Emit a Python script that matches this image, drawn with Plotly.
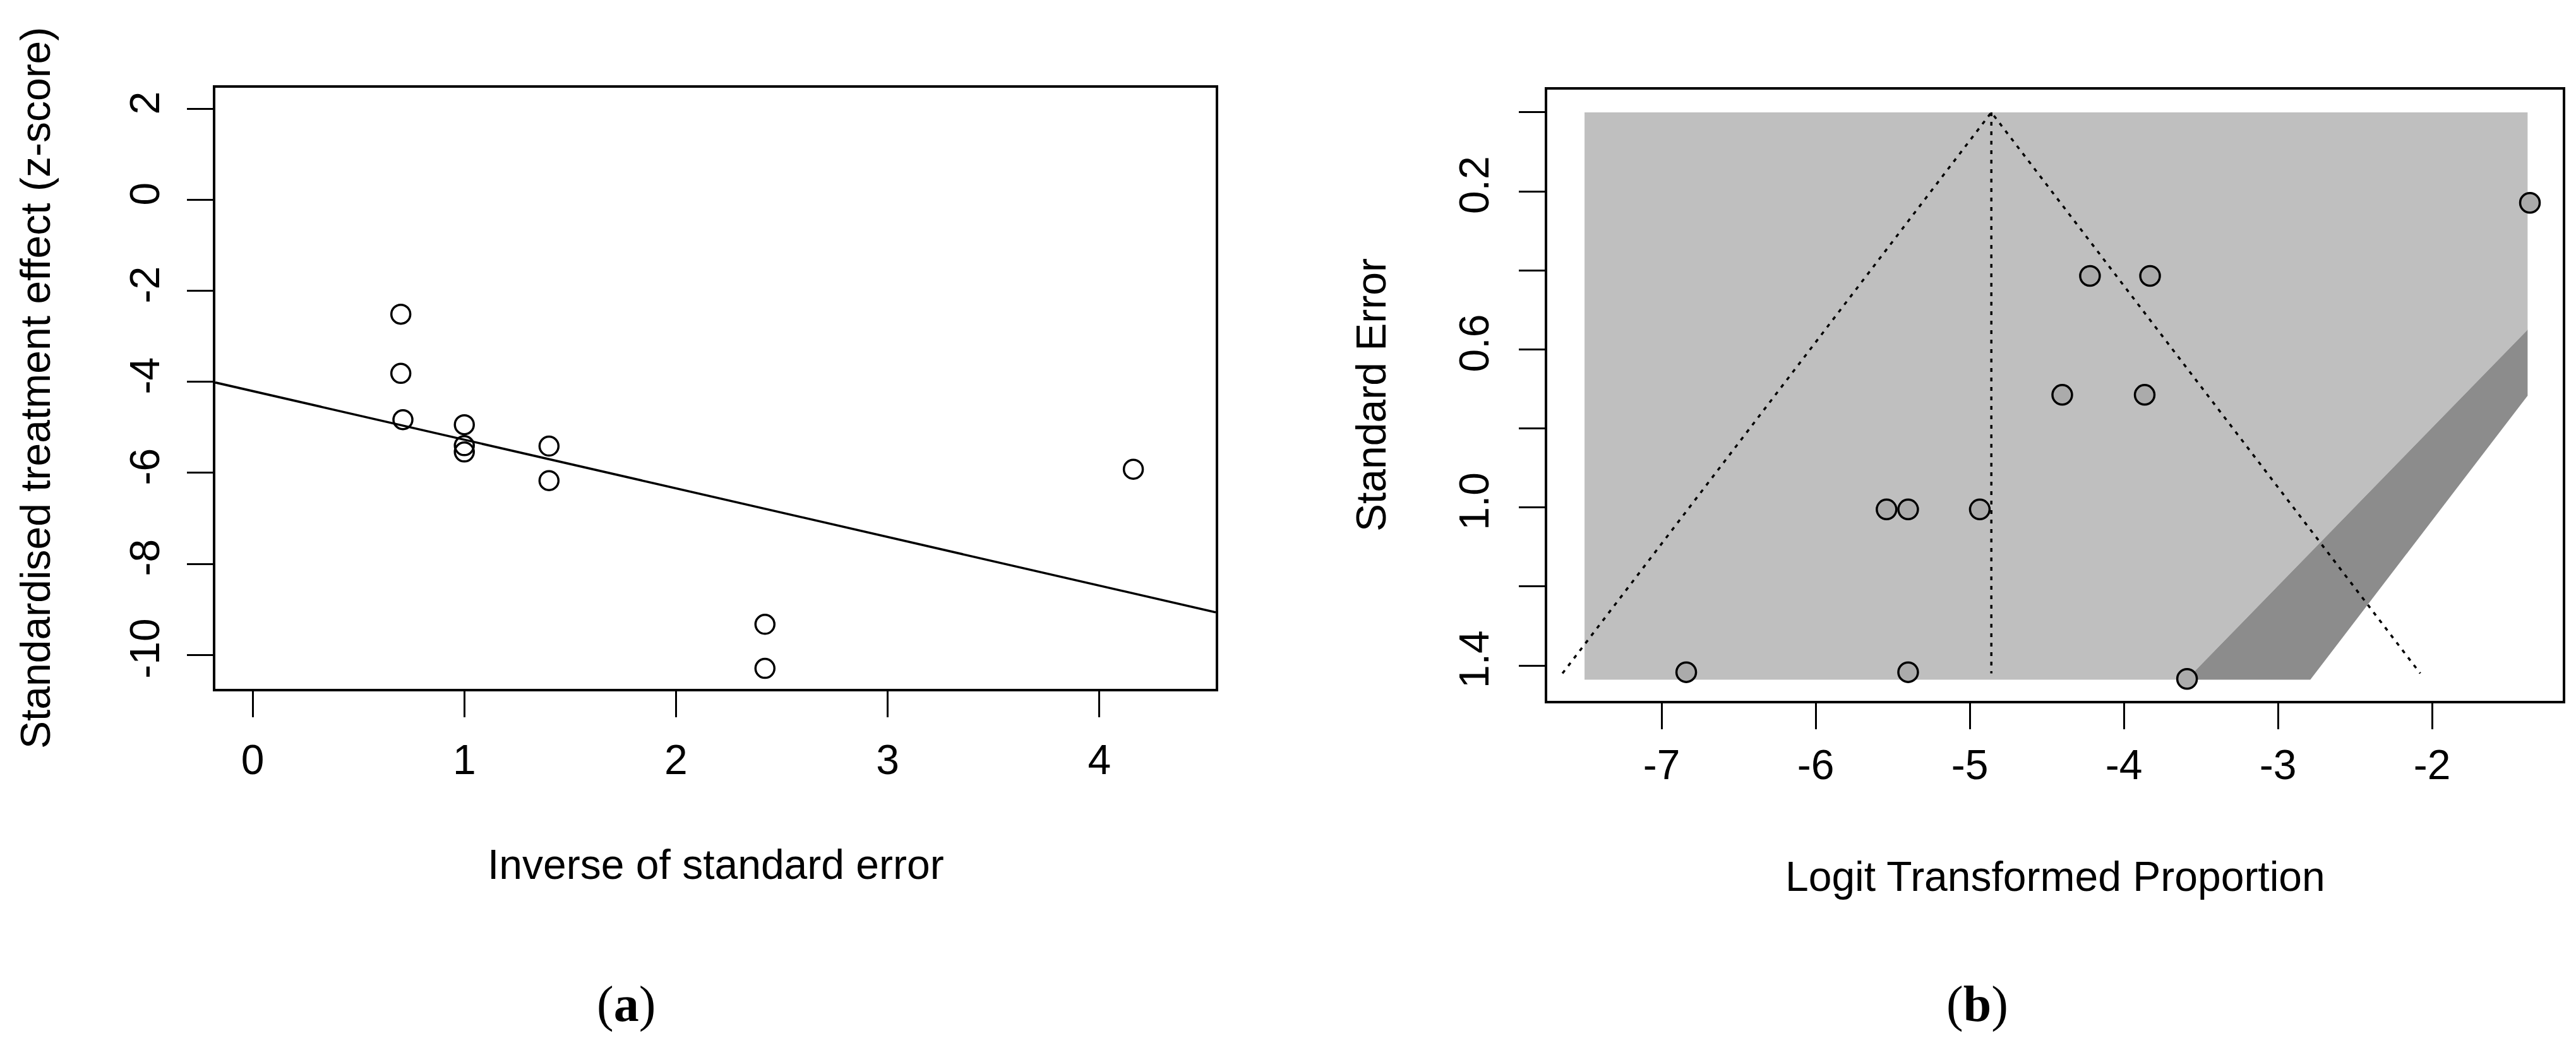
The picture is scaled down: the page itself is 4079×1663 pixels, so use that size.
import plotly.graph_objects as go

# ---------------- Panel (a): radial plot data ----------------
inv_se = [0.70, 0.70, 0.71, 1.00, 1.00, 1.00, 1.40, 1.40, 2.42, 2.42, 4.16]
z_score = [-2.51, -3.81, -4.83, -4.94, -5.40, -5.54, -5.41, -6.17, -9.33, -10.30, -5.92]
reg_intercept = -4.2
reg_slope = -1.07
a_xrange = [-0.176, 4.549]
a_yrange = [-10.75, 2.472]
a_xticks = [0, 1, 2, 3, 4]
a_xticktext = ["0", "1", "2", "3", "4"]
a_yticks = [2, 0, -2, -4, -6, -8, -10]
a_yticktext = ["2", "0", "-2", "-4", "-6", "-8", "-10"]

# ---------------- Panel (b): funnel plot data ----------------
logit_prop = [-6.84, -5.40, -3.59, -5.54, -5.40, -4.935, -4.40, -3.865, -4.22, -3.83, -1.365]
std_err = [1.417, 1.417, 1.434, 1.005, 1.005, 1.005, 0.715, 0.715, 0.414, 0.414, 0.229]
funnel_center = -4.86
funnel_se_max = 1.42
z_crit = 1.96
light_x = [-7.5, -1.38, -1.38, -3.594, -7.5]
light_se = [0.0, 0.0, 0.55, 1.436, 1.436]
dark_x = [-1.38, -1.38, -2.79, -3.594]
dark_se = [0.55, 0.717, 1.436, 1.436]
b_xrange = [-7.742, -1.152]
b_yrange = [1.4895, -0.0575]
b_xticks = [-7, -6, -5, -4, -3, -2]
b_xticktext = ["-7", "-6", "-5", "-4", "-3", "-2"]
b_yticks = [0.0, 0.2, 0.4, 0.6, 0.8, 1.0, 1.2, 1.4]
b_yticktext = ["", "0.2", "", "0.6", "", "1.0", "", "1.4"]

W, H = 4079, 1663
FONT = "Liberation Sans"
FS = 66

fig = go.Figure()

# Panel (a)
fig.add_trace(go.Scatter(
    x=[a_xrange[0], a_xrange[1]],
    y=[reg_intercept + reg_slope * a_xrange[0], reg_intercept + reg_slope * a_xrange[1]],
    mode="lines", line=dict(color="black", width=3.5), xaxis="x", yaxis="y",
    showlegend=False, hoverinfo="skip"))
fig.add_trace(go.Scatter(
    x=inv_se, y=z_score, mode="markers",
    marker=dict(symbol="circle-open", size=30, color="black", line=dict(width=3.5, color="black")),
    xaxis="x", yaxis="y", showlegend=False))

# Panel (b)
fig.add_trace(go.Scatter(
    x=light_x + [light_x[0]], y=light_se + [light_se[0]], fill="toself",
    fillcolor="#BFBFBF", line=dict(width=0), mode="lines",
    xaxis="x2", yaxis="y2", showlegend=False, hoverinfo="skip"))
fig.add_trace(go.Scatter(
    x=dark_x + [dark_x[0]], y=dark_se + [dark_se[0]], fill="toself",
    fillcolor="#8C8C8C", line=dict(width=0), mode="lines",
    xaxis="x2", yaxis="y2", showlegend=False, hoverinfo="skip"))
fig.add_trace(go.Scatter(
    x=[funnel_center - z_crit * funnel_se_max, funnel_center, funnel_center + z_crit * funnel_se_max],
    y=[funnel_se_max, 0, funnel_se_max],
    mode="lines", line=dict(color="black", width=3.5, dash="6px,9px"),
    xaxis="x2", yaxis="y2", showlegend=False, hoverinfo="skip"))
fig.add_trace(go.Scatter(
    x=[funnel_center, funnel_center], y=[0, funnel_se_max],
    mode="lines", line=dict(color="black", width=3.5, dash="6px,9px"),
    xaxis="x2", yaxis="y2", showlegend=False, hoverinfo="skip"))
fig.add_trace(go.Scatter(
    x=logit_prop, y=std_err, mode="markers",
    marker=dict(symbol="circle", size=31, color="#ABABAB", line=dict(width=3.5, color="black")),
    xaxis="x2", yaxis="y2", showlegend=False))

axis_common = dict(
    showgrid=False, zeroline=False, showline=True, linecolor="black", linewidth=3.5,
    mirror=True, ticks="outside", ticklen=41, tickwidth=3, tickcolor="black",
    tickfont=dict(family=FONT, size=FS, color="black"),
)

fig.update_layout(
    width=W, height=H,
    margin=dict(l=0, r=0, t=0, b=0),
    paper_bgcolor="white", plot_bgcolor="white",
    font=dict(family=FONT, size=FS, color="black"),
    xaxis=dict(domain=[333 / W, 1917 / W], range=a_xrange, tickvals=a_xticks,
               ticktext=a_xticktext, anchor="y", ticklabelstandoff=11, **axis_common),
    yaxis=dict(domain=[1 - 1083 / H, 1 - 131 / H], range=a_yrange, tickvals=a_yticks,
               ticktext=a_yticktext, anchor="x", tickangle=-90, ticklabelstandoff=18,
               **axis_common),
    xaxis2=dict(domain=[2442 / W, 4050 / W], range=b_xrange, tickvals=b_xticks,
                ticktext=b_xticktext, anchor="y2", ticklabelstandoff=0, **axis_common),
    yaxis2=dict(domain=[1 - 1102 / H, 1 - 134 / H], range=b_yrange, tickvals=b_yticks,
                ticktext=b_yticktext, anchor="x2", tickangle=-90, ticklabelstandoff=22,
                **axis_common),
)

ann_font = dict(family=FONT, size=FS, color="black")
fig.add_annotation(text="Inverse of standard error", xref="paper", yref="paper",
                   x=1125 / W, y=1 - 1361 / H, showarrow=False, font=ann_font,
                   xanchor="center", yanchor="middle")
fig.add_annotation(text="Logit Transformed Proportion", xref="paper", yref="paper",
                   x=3246 / W, y=1 - 1380 / H, showarrow=False, font=ann_font,
                   xanchor="center", yanchor="middle")
fig.add_annotation(text="Standardised treatment effect (z-score)", xref="paper", yref="paper",
                   x=48 / W, y=1 - 607 / H, showarrow=False, font=ann_font, textangle=-90,
                   xanchor="center", yanchor="middle")
fig.add_annotation(text="Standard Error", xref="paper", yref="paper",
                   x=2163 / W, y=1 - 618 / H, showarrow=False, font=ann_font, textangle=-90,
                   xanchor="center", yanchor="middle")

cap_font = dict(family="Liberation Serif", size=80, color="black")
fig.add_annotation(text="(<b>a</b>)", xref="paper", yref="paper",
                   x=983 / W, y=1 - 1582 / H, showarrow=False, font=cap_font,
                   xanchor="center", yanchor="middle")
fig.add_annotation(text="(<b>b</b>)", xref="paper", yref="paper",
                   x=3123 / W, y=1 - 1582 / H, showarrow=False, font=cap_font,
                   xanchor="center", yanchor="middle")

fig.write_html("out.html")
